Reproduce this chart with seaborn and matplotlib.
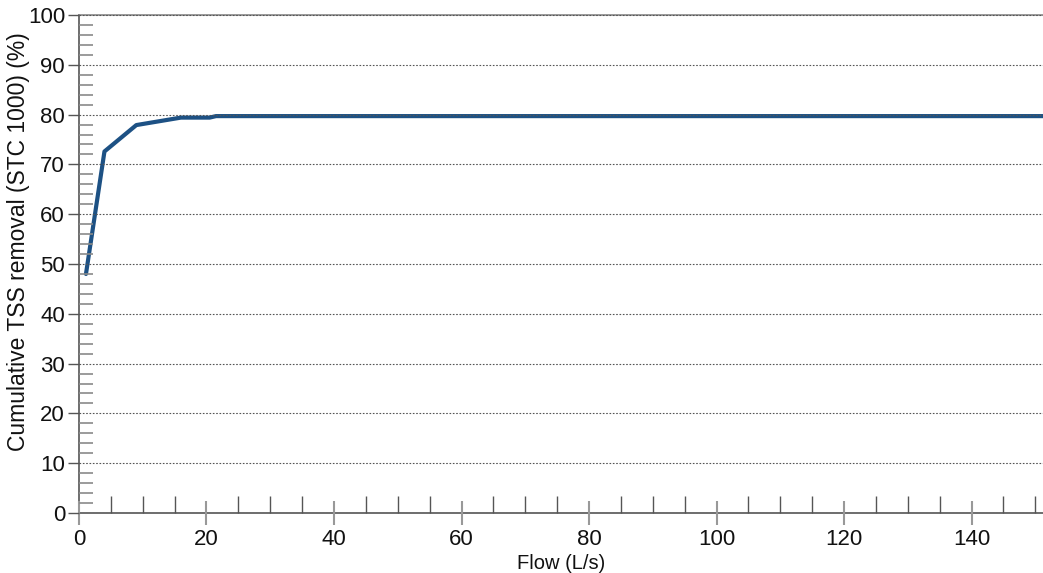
import matplotlib
matplotlib.use("Agg")
import matplotlib.pyplot as plt
from matplotlib.ticker import MultipleLocator
import seaborn as sns
import pandas as pd

flow = [1.1, 4.0, 9.0, 16.0, 20.5, 21.5, 40, 60, 80, 100, 120, 140, 152]
removal = [48.0, 72.6, 77.9, 79.4, 79.4, 79.7, 79.7, 79.7, 79.7, 79.7, 79.7, 79.7, 79.7]
x_label = "Flow (L/s)"
y_label = "Cumulative TSS removal (STC 1000) (%)"

sns.set_style("white")
plt.rcParams['font.family'] = ['Liberation Sans', 'DejaVu Sans']

df = pd.DataFrame({"flow": flow, "removal": removal})

fig = plt.figure(figsize=(10.43, 5.73), dpi=100)
ax = fig.add_axes([0.0757, 0.1047, 0.9243, 0.8691])

sns.lineplot(data=df, x="flow", y="removal", ax=ax, color="#1d5184",
             linewidth=3, zorder=2)

ax.set_xlim(0, 151.2)
ax.set_ylim(0, 100)
ax.xaxis.set_major_locator(MultipleLocator(20))
ax.xaxis.set_minor_locator(MultipleLocator(5))
ax.yaxis.set_major_locator(MultipleLocator(10))
ax.yaxis.set_minor_locator(MultipleLocator(2))

ax.set_axisbelow(False)
ax.grid(axis="y", which="major", linestyle=(0, (1.5, 1.5)), color="#555555",
        linewidth=0.8)
ax.grid(axis="x", visible=False)

ax.tick_params(axis="y", which="major", direction="out", length=8, width=1,
               color="#555555", labelsize=16, pad=2, labelcolor="#111111",
               left=True)
ax.tick_params(axis="y", which="minor", direction="in", length=10, width=1.2,
               color="#8a8a8a", left=True)
ax.tick_params(axis="x", which="major", direction="inout", length=17, width=1.5,
               color="#999999", labelsize=16, pad=3, labelcolor="#111111",
               bottom=True)
ax.tick_params(axis="x", which="minor", direction="in", length=12, width=1,
               color="#555555", bottom=True)

for s in ["left", "bottom"]:
    ax.spines[s].set_color("#555555")
    ax.spines[s].set_linewidth(1.2)
ax.spines["top"].set_color("#888888")
ax.spines["top"].set_linewidth(1.2)
ax.spines["right"].set_visible(False)

ax.set_xlabel(x_label, fontsize=14.5, color="#111111", labelpad=3)
ax.set_ylabel(y_label, fontsize=16.5, color="#111111")
ax.yaxis.set_label_coords(-0.051, 0.544)

fig.savefig("out.png", dpi=100)
